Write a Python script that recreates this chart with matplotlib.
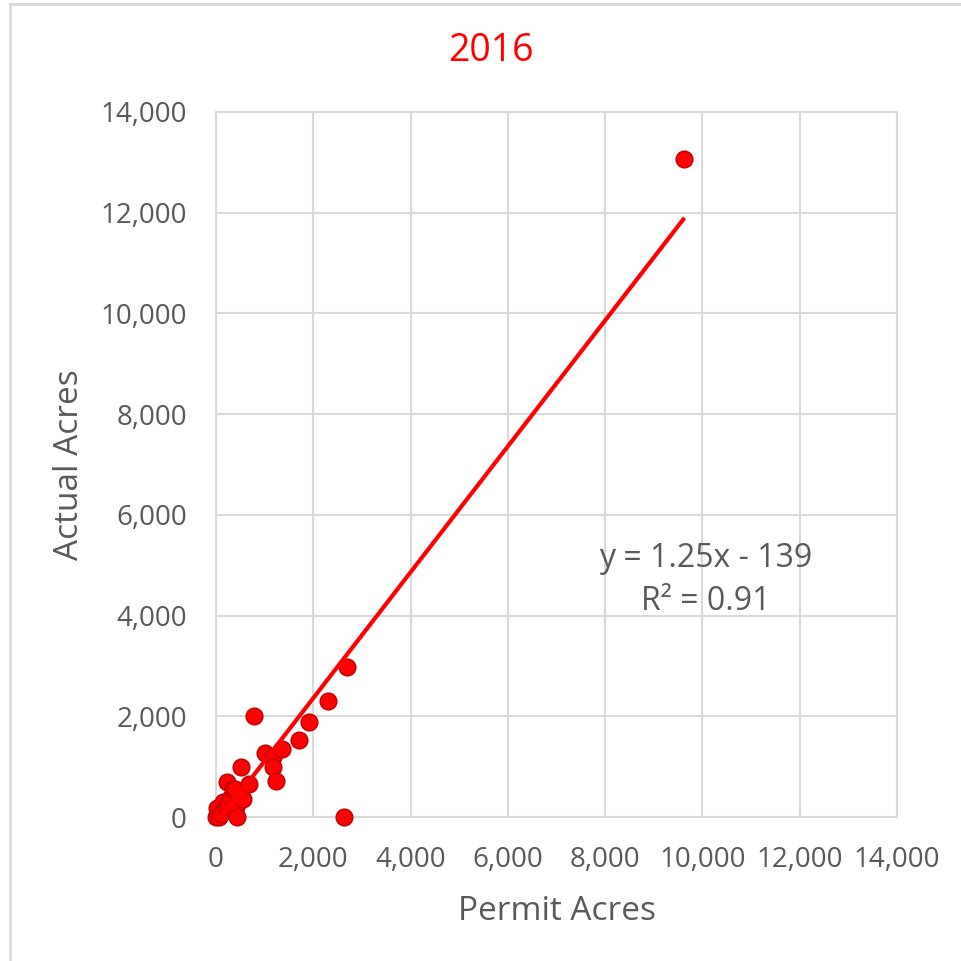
import numpy as np
import matplotlib
matplotlib.use('Agg')
import matplotlib.pyplot as plt
from matplotlib.ticker import FuncFormatter, MultipleLocator
from matplotlib.lines import Line2D

plt.rcParams['font.family'] = ['Open Sans', 'DejaVu Sans']

# permit vs actual acres, 2016
permit = [0, 20, 60, 100, 150, 200, 230, 250, 300, 340, 400, 420, 440, 510,
          560, 680, 780, 1000, 1180, 1180, 1230, 1360, 1700, 1920, 2300,
          2640, 2700, 9630]
actual = [0, 180, 0, 50, 300, 200, 700, 280, 400, 550, 550, 200, 0, 1000,
          350, 660, 2000, 1280, 1200, 1000, 720, 1350, 1530, 1890, 2300,
          0, 2980, 13070]
slope = 1.25
intercept = -139
r2 = 0.91
title = '2016'

grey = '#595959'
gridc = '#d9d9d9'

fig = plt.figure(figsize=(9.62, 9.61), dpi=100)
ax = fig.add_axes([216/962, 1-817/961, (897-216)/962, (817-112)/961])

ax.set_xlim(0, 14000)
ax.set_ylim(0, 14000)
ax.xaxis.set_major_locator(MultipleLocator(2000))
ax.yaxis.set_major_locator(MultipleLocator(2000))
fmt = FuncFormatter(lambda v, p: '{:,.0f}'.format(v))
ax.xaxis.set_major_formatter(fmt)
ax.yaxis.set_major_formatter(fmt)
ax.grid(True, color=gridc, linewidth=1.5, zorder=0)
ax.set_axisbelow(True)
for s in ax.spines.values():
    s.set_color(gridc)
    s.set_linewidth(1.5)
ax.tick_params(length=0, labelsize=20, labelcolor=grey)
ax.tick_params(axis='y', pad=21)
ax.tick_params(axis='x', pad=21)

ax.scatter(permit, actual, s=145, color='#ff0000', edgecolor='#c00000',
           linewidth=1, zorder=3, clip_on=False)

xs = np.array([min(permit), max(permit)])
ax.plot(xs, slope*xs + intercept, color='#ff0000', lw=3, zorder=4,
        solid_capstyle='butt')

ax.text(10070, 4700, 'y = {:.2f}x - {:d}\nR\u00b2 = {:.2f}'.format(slope, -intercept, r2),
        ha='center', va='center', fontsize=23, color=grey, linespacing=1.4)

ax.set_xlabel('Permit Acres', fontsize=24, color=grey, labelpad=15)
ax.set_ylabel('Actual Acres', fontsize=24, color=grey, labelpad=10)
fig.text(491/962, 1-51/961, title, ha='center', va='center', fontsize=27,
         color='#ff0000')

# chart frame (top and left edges)
fig.add_artist(Line2D([10/962, 10/962], [0, 1-4/961], transform=fig.transFigure,
                      color=gridc, lw=2))
fig.add_artist(Line2D([10/962, 1], [1-4/961, 1-4/961], transform=fig.transFigure,
                      color=gridc, lw=2))

fig.savefig('out.png', dpi=100)
